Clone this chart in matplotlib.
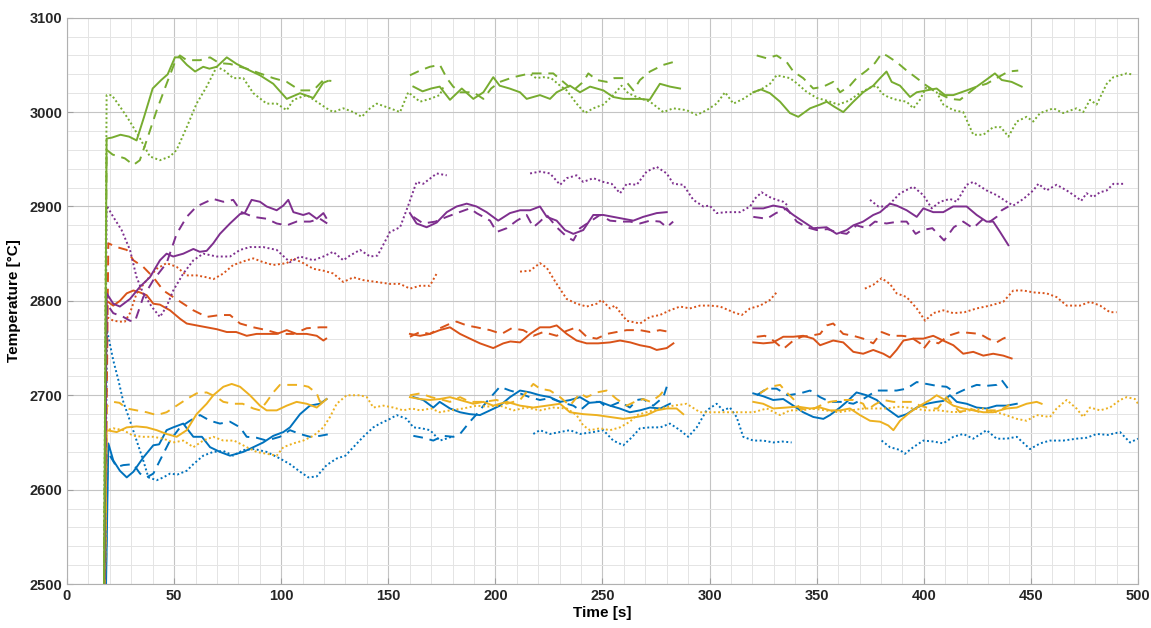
import numpy as np
import matplotlib.pyplot as plt

nan = np.nan

# --- green ---
gs_t = [16.8, 18.5, 21, 25, 29, 32.5, 36, 40, 44, 47, 50.4, 52.7, 56, 59.8, 63.6, 66.5, 69.9, 74.6, 79.2, 85.4, 90.1, 96.3, 102.6, 108.8, 115, 119.6, 121.8,
        140,
        161.7, 166, 170, 174, 178.8, 184.3, 189.7, 194.4, 199, 202, 206.6, 211.5, 214.6, 220.8, 225.5, 228.6, 234.8, 239.5, 244.2, 250.4, 255, 259.7, 267.5, 272, 276.8, 281.5, 286.2,
        300,
        320.4, 324, 328.2, 332.9, 337.5, 341.4, 346.9, 351.6, 354.7, 358, 362.4, 367.1, 371.7, 376.4, 379.6, 382.6, 385, 388.9, 393.6, 396.7, 401.3, 406, 409.9, 413.8, 420, 424.7, 427.8, 433.2, 436.4, 441, 445.7]
gs_v = [2300, 2972, 2973, 2976, 2974, 2970, 2995, 3025, 3034, 3040, 3058, 3058, 3050, 3043, 3048, 3046, 3048, 3058, 3051, 3044, 3039, 3030, 3014, 3020, 3015, 3031, 3033,
        nan,
        3027, 3022, 3025, 3027, 3013, 3025, 3014, 3021, 3037, 3028, 3025, 3021, 3014, 3018, 3014, 3021, 3028, 3021, 3027, 3023, 3016, 3014, 3014, 3013, 3030, 3027, 3025,
        nan,
        3021, 3024, 3020, 3011, 2999, 2995, 3004, 3008, 3011, 3006, 3000, 3011, 3021, 3028, 3036, 3043, 3032, 3028, 3016, 3021, 3023, 3025, 3018, 3018, 3023, 3027, 3032, 3041, 3034, 3032, 3027]

gd_t = [16.8, 18.5, 21.3, 27, 31, 34, 37.2, 41.9, 46.5, 50.4, 52.7, 55.9, 62.1, 66.8, 71, 76.1, 83.9, 90.1, 96.3, 102.6, 108.8, 115, 119.7, 123.4,
        140,
        160.1, 164.8, 169.4, 174.1, 177.3, 180.3, 183.5, 189.7, 194.4, 198, 202.1, 208.4, 216.2, 227, 231.7, 236.4, 241, 243.4, 247.3, 252, 255.5, 259.7, 264.4, 267.5, 272.2, 278.4, 283,
        300,
        322, 326.7, 331.3, 336, 339.1, 343.7, 348.4, 353.1, 357.7, 360.9, 365.5, 368.6, 373.3, 377.2, 380.3, 382.6, 387.3, 392, 396.7, 401.3, 406, 412.2, 416.9, 420.8, 424.7, 429.3, 434, 439.5, 444.1]
gd_v = [2300, 2960, 2955, 2951, 2944, 2949, 2970, 3002, 3030, 3053, 3060, 3055, 3055, 3058, 3052, 3051, 3046, 3041, 3036, 3032, 3023, 3023, 3034, 3033,
        nan,
        3039, 3044, 3048, 3050, 3036, 3027, 3021, 3021, 3014, 3025, 3032, 3037, 3041, 3041, 3032, 3023, 3032, 3041, 3034, 3032, 3036, 3036, 3023, 3034, 3043, 3050, 3053,
        nan,
        3060, 3057, 3060, 3053, 3043, 3036, 3025, 3027, 3032, 3021, 3028, 3036, 3044, 3052, 3062, 3060, 3053, 3044, 3036, 3028, 3021, 3014, 3013, 3020, 3027, 3030, 3036, 3043, 3044]

gt_t = [16.8, 18.5, 20.9, 24.7, 29.4, 34.1, 38.7, 43.4, 48.1, 51.2, 55.9, 60.5, 65.2, 69.9, 73.5, 77.6, 82.3, 87, 93.2, 97.9, 102.6, 105.7, 111.9, 116.6, 121.2, 124.3, 129, 133.7, 137.6, 141.5, 144.6, 150.8, 155.5, 159.3, 164.8, 169.4, 174, 176,
        195,
        216.5, 219, 222.4, 226, 230.2, 233.3, 237.9, 241.8, 245.7, 250.4, 255, 258.9, 262, 266, 272.2, 278.4, 283, 289.3, 294, 298.6, 303.3, 307.2, 311.1, 315.7, 320.4, 324, 328.2, 331.3, 337.5, 341, 345, 350, 355, 360, 365, 370, 375, 378, 380.3, 383.3, 387.3, 392, 395.1, 398.2, 401.3, 406, 409.1, 413.8, 418.4, 423.1, 427.8, 432.4, 436, 439.5, 443.4, 448, 451.1, 454.3, 460.5, 465.1, 471.3, 474.4, 477.6, 480.7, 485.4, 488.5, 494.7, 497]
gt_v = [2300, 3018, 3018, 3006, 2990, 2972, 2953, 2949, 2953, 2960, 2984, 3009, 3027, 3048, 3044, 3036, 3036, 3020, 3009, 3009, 3002, 3013, 3018, 3011, 3004, 3000, 3004, 3000, 2995, 3004, 3009, 3004, 3000, 3021, 3011, 3014, 3018, 3028,
        nan,
        3040, 3036, 3037, 3036, 3028, 3023, 3009, 2999, 3004, 3008, 3018, 3028, 3020, 3016, 3011, 3000, 3004, 3002, 2997, 3002, 3009, 3021, 3009, 3014, 3021, 3024, 3030, 3039, 3036, 3030, 3022, 3015, 3012, 3008, 3012, 3020, 3026, 3028, 3020, 3016, 3013, 3011, 3004, 3013, 3027, 3021, 3008, 3002, 3000, 2976, 2976, 2984, 2984, 2974, 2990, 2995, 2990, 2999, 3004, 2999, 3004, 3000, 3013, 3008, 3030, 3037, 3041, 3040]

# --- purple ---
ps_t = [16.8, 18.5, 21.6, 24.7, 29.4, 34.1, 38.7, 43.4, 46.5, 49.6, 54.3, 59, 62, 65.2, 68.3, 71.4, 76.1, 80.8, 83, 86.2, 90.1, 93.2, 97.9, 101, 103.3, 105.7, 110.3, 113, 116.6, 119.7, 121,
        140,
        160.1, 163.2, 167.9, 172.6, 177.3, 181.9, 186.6, 191.2, 195.9, 201.3, 206.8, 211.5, 216.2, 220.8, 224, 228.6, 232.5, 236.4, 241, 245.7, 250.4, 255, 259.7, 264.4, 269, 275.3, 280,
        300,
        320.4, 325.1, 329.7, 334.4, 339.1, 343.7, 348.4, 354.6, 359.3, 364, 367.1, 371.7, 376.4, 379.6, 384.2, 387.3, 392, 396.7, 399.8, 404.4, 409.1, 413.7, 420, 424.7, 429.3, 432.4, 435.6, 439.5]
ps_v = [2300, 2808, 2797, 2794, 2802, 2815, 2825, 2843, 2850, 2847, 2850, 2855, 2852, 2853, 2861, 2871, 2882, 2892, 2893, 2907, 2905, 2900, 2896, 2901, 2907, 2894, 2891, 2893, 2887, 2893, 2888,
        nan,
        2893, 2882, 2878, 2883, 2894, 2900, 2903, 2900, 2894, 2885, 2893, 2896, 2896, 2900, 2889, 2885, 2875, 2871, 2875, 2891, 2891, 2889, 2887, 2885, 2889, 2893, 2894,
        nan,
        2898, 2898, 2901, 2899, 2891, 2884, 2877, 2878, 2871, 2875, 2880, 2884, 2891, 2894, 2903, 2901, 2896, 2889, 2898, 2894, 2894, 2900, 2900, 2891, 2884, 2884, 2873, 2859]

pd_t = [16.8, 18.5, 21.6, 26.3, 29.4, 31.7, 35.6, 40.3, 46.5, 51.2, 55.9, 60.5, 65.2, 68.3, 73, 77.6, 81.5, 87, 93.2, 97.9, 102.6, 107.2, 113.5, 118.1, 121.5,
        140,
        161.7, 166.3, 172, 177.3, 182, 188.1, 191.2, 197.5, 200.6, 205.3, 210, 214.6, 217.7, 220.8, 224, 228.6, 233.3, 236.4, 239.5, 244.2, 248.8, 253.5, 258.2, 262.8, 267.5, 272.2, 276.8, 280, 283,
        300,
        320.4, 326.7, 331, 336, 340.7, 345.3, 350, 355, 359, 364, 368.6, 373.3, 377.2, 382.6, 388.1, 392, 396.2, 399.3, 404, 409.5, 414, 418.4, 423, 427.8, 430.9, 434, 436.4, 439.5]
pd_v = [2300, 2797, 2787, 2783, 2779, 2778, 2804, 2822, 2840, 2871, 2889, 2900, 2905, 2908, 2905, 2907, 2894, 2889, 2887, 2882, 2880, 2884, 2884, 2887, 2882,
        nan,
        2889, 2882, 2884, 2889, 2893, 2898, 2893, 2885, 2873, 2877, 2885, 2891, 2878, 2884, 2891, 2878, 2868, 2864, 2877, 2884, 2891, 2885, 2884, 2884, 2882, 2885, 2884, 2878, 2884,
        nan,
        2889, 2887, 2893, 2898, 2884, 2878, 2875, 2876, 2873, 2871, 2880, 2877, 2884, 2882, 2884, 2884, 2871, 2875, 2877, 2864, 2878, 2884, 2877, 2887, 2884, 2889, 2896, 2900]

pt_t = [16.8, 18.5, 21.6, 25.5, 29.4, 32.5, 35.6, 39.5, 43.4, 46.5, 49.6, 54.3, 59, 63.6, 69.9, 76.1, 80.8, 85.4, 91.6, 97.9, 104.1, 108.8, 115, 119.7, 124.3, 129, 132.1, 136.8, 141.5, 145, 150.8, 155.5, 159.3, 163.2, 166.3, 172.6, 177.3,
        195,
        216.2, 220.8, 225.5, 230.2, 233.3, 237.9, 241, 245.7, 250.4, 254.3, 258.2, 261.3, 266, 270.6, 275.3, 280, 283.1, 287.7, 292.4, 297.1, 300, 303.3, 308, 314.2, 318.9, 321, 324.3, 328, 331.3, 334.4, 337,
        355,
        374.9, 378.8, 383, 388.9, 395.1, 399.8, 403.7, 407.6, 412.2, 415.4, 420, 423.1, 429.3, 434, 438.7, 441.8, 446.5, 451.1, 453.5, 457.3, 462, 466.7, 471.3, 473.5, 476, 479.1, 482.2, 485.4, 488.5, 493.2]
pt_v = [2300, 2901, 2889, 2875, 2854, 2825, 2808, 2794, 2783, 2794, 2811, 2829, 2843, 2850, 2847, 2847, 2854, 2857, 2857, 2854, 2841, 2847, 2843, 2847, 2852, 2843, 2848, 2854, 2847, 2848, 2873, 2878, 2901, 2926, 2924, 2935, 2933,
        nan,
        2935, 2937, 2935, 2923, 2930, 2933, 2926, 2930, 2926, 2924, 2914, 2924, 2923, 2937, 2942, 2935, 2924, 2923, 2907, 2900, 2901, 2893, 2894, 2894, 2900, 2908, 2915, 2910, 2907, 2905, 2900,
        nan,
        2907, 2900, 2900, 2914, 2921, 2912, 2898, 2905, 2908, 2905, 2923, 2926, 2917, 2912, 2905, 2901, 2908, 2917, 2924, 2917, 2923, 2917, 2910, 2906, 2914, 2910, 2915, 2917, 2924, 2924]

# --- orange ---
os_t = [16.8, 18.5, 21.6, 24.7, 27.9, 31, 34, 37.2, 40.3, 43.4, 48.1, 52.8, 55.9, 60.5, 65.2, 69.9, 74.6, 79, 83.9, 88.5, 93.2, 98, 102.6, 107.2, 111.9, 116.6, 119.7, 121,
        140,
        160.1, 164.8, 169.4, 174, 178.8, 183.5, 188.1, 192.8, 199, 203.7, 207, 211.5, 216.2, 220.8, 225.5, 228.6, 233.3, 237.9, 242.6, 248, 253.5, 258.2, 263, 267.5, 272.2, 275.3, 280, 283.1,
        300,
        320.4, 325.1, 329.7, 334.4, 339.1, 343.7, 348.4, 351.6, 357.7, 362.4, 367.1, 371.7, 376.4, 381.1, 384.2, 387.3, 390.5, 395.1, 399.8, 404.4, 409, 413.8, 418.4, 423.1, 427.8, 432.4, 437.1, 441]
os_v = [2300, 2800, 2795, 2800, 2808, 2811, 2809, 2806, 2797, 2796, 2790, 2781, 2776, 2774, 2772, 2770, 2767, 2767, 2763, 2765, 2765, 2765, 2769, 2765, 2765, 2763, 2758, 2760,
        nan,
        2765, 2763, 2765, 2769, 2772, 2765, 2760, 2755, 2750, 2755, 2757, 2756, 2765, 2772, 2772, 2774, 2765, 2758, 2755, 2755, 2756, 2758, 2756, 2753, 2751, 2748, 2750, 2755,
        nan,
        2756, 2755, 2756, 2762, 2762, 2763, 2760, 2753, 2758, 2756, 2746, 2744, 2748, 2744, 2740, 2748, 2758, 2760, 2760, 2763, 2758, 2753, 2744, 2746, 2742, 2744, 2742, 2739]

od_t = [16.8, 19.3, 23.2, 27.9, 31, 35.6, 40.3, 45, 49.6, 54.3, 59, 65.2, 71.4, 76.1, 80.8, 87, 93.2, 99.4, 105.7, 111.9, 118.1, 122,
        140,
        160.1, 164.8, 169.4, 174.1, 178, 181.9, 186.6, 191.2, 197.5, 202.9, 207.6, 213, 217.7, 222.4, 228.6, 233, 237.9, 242.6, 247.3, 252, 256.6, 261.3, 267.5, 272.2, 276.8, 281.5,
        300,
        322, 325.8, 329.7, 334.4, 339.1, 343, 346.9, 351.6, 354.7, 357.7, 362.4, 367.1, 371.7, 376.4, 380.3, 384.9, 389.6, 393.6, 398.3, 399.8, 402.9, 406.8, 411.4, 416.9, 421.6, 426.2, 430, 434, 437, 440.2]
od_v = [2300, 2861, 2857, 2854, 2843, 2836, 2825, 2811, 2804, 2797, 2790, 2783, 2785, 2785, 2776, 2772, 2769, 2765, 2765, 2771, 2772, 2772,
        nan,
        2762, 2767, 2765, 2771, 2775, 2778, 2774, 2772, 2769, 2765, 2771, 2769, 2763, 2767, 2763, 2768, 2772, 2762, 2760, 2765, 2767, 2769, 2769, 2767, 2769, 2767,
        nan,
        2762, 2763, 2758, 2749, 2758, 2762, 2763, 2765, 2774, 2776, 2765, 2763, 2760, 2755, 2767, 2763, 2763, 2762, 2755, 2749, 2758, 2755, 2763, 2767, 2766, 2765, 2760, 2756, 2760, 2763]

ot_t = [16.8, 18.5, 21.6, 24.7, 27, 29.4, 32.5, 37.2, 41.9, 46.5, 51.2, 55.9, 60.5, 65.2, 68.3, 73, 77.6, 83.9, 87, 91.6, 96.3, 102.6, 105.7, 110.3, 115, 119.7, 124.3, 129, 133.7, 138.3, 144.6, 150.8, 155.4, 160.1, 164.8, 169.4, 172.6,
        190,
        211.5, 216.2, 220.8, 224, 228.6, 233.3, 237.9, 242.6, 247.3, 249.6, 253.5, 255.8, 261.3, 267.5, 272.2, 276.8, 281.5, 286.2, 290.8, 295.5, 300.2, 304.9, 311.1, 315, 318.9, 323.6, 328.2, 331.3,
        350,
        372.5, 376.4, 380.3, 384.2, 387.3, 392, 396.7, 400.6, 404.4, 409.1, 413.8, 419, 424.7, 430.9, 437.1, 441.8, 446.5, 451.1, 457.3, 462, 466.7, 472.9, 477.6, 482.3, 486.9, 490]
ot_v = [2300, 2783, 2779, 2778, 2778, 2787, 2808, 2822, 2834, 2840, 2836, 2827, 2827, 2825, 2823, 2829, 2838, 2843, 2845, 2841, 2838, 2840, 2845, 2840, 2834, 2832, 2829, 2820, 2825, 2822, 2820, 2818, 2818, 2813, 2816, 2816, 2829,
        nan,
        2831, 2832, 2840, 2835, 2818, 2802, 2797, 2794, 2797, 2801, 2792, 2795, 2779, 2776, 2783, 2785, 2790, 2794, 2792, 2795, 2795, 2794, 2788, 2785, 2792, 2795, 2801, 2809,
        nan,
        2813, 2817, 2824, 2818, 2808, 2804, 2792, 2779, 2787, 2790, 2787, 2788, 2792, 2795, 2799, 2811, 2811, 2809, 2808, 2804, 2795, 2795, 2799, 2795, 2788, 2788]

# --- yellow ---
ys_t = [16.8, 18.5, 23.2, 27.9, 32.5, 37.2, 41.9, 46.5, 51.2, 55.9, 60.5, 65.2, 68.3, 73, 76.9, 80.8, 85.4, 90.1, 93.2, 97.9, 102.6, 107.2, 111.9, 116.6, 121.2,
        140,
        160.1, 164.8, 169.4, 174, 178.8, 183.5, 189.7, 194.4, 199, 205.3, 211.5, 217.7, 224, 230.2, 234.8, 241, 247.3, 253.5, 259.7, 266, 270.6, 275.3, 280, 284.6, 287.7,
        300,
        320.4, 325, 329.7, 335.9, 341, 346.9, 351.6, 356.2, 361, 365.5, 370.2, 374.9, 379.6, 383.4, 385.8, 388.9, 393.6, 398.2, 402.9, 406, 409.1, 413.8, 418.4, 423.1, 427.8, 432.4, 438.7, 443.4, 448, 452.7, 455]
ys_v = [2300, 2663, 2661, 2666, 2667, 2666, 2663, 2659, 2656, 2663, 2680, 2691, 2700, 2709, 2712, 2709, 2700, 2689, 2684, 2684, 2689, 2693, 2691, 2687, 2696,
        nan,
        2698, 2696, 2695, 2696, 2698, 2695, 2691, 2693, 2689, 2693, 2689, 2687, 2689, 2691, 2682, 2680, 2679, 2677, 2675, 2677, 2679, 2684, 2686, 2686, 2680,
        nan,
        2693, 2691, 2686, 2687, 2688, 2686, 2687, 2684, 2684, 2686, 2679, 2673, 2672, 2668, 2663, 2673, 2682, 2689, 2695, 2700, 2696, 2689, 2686, 2684, 2682, 2682, 2686, 2687, 2691, 2693, 2691]

yd_t = [16.8, 18.5, 21.6, 24.5, 27.9, 32.5, 37.2, 41.9, 46.5, 51.2, 55.9, 60.5, 65.2, 69.9, 73, 77.6, 82, 87, 90.1, 93.2, 96.3, 99.4, 104.1, 108.8, 112.7, 116.6, 118.1, 120.5,
        140,
        160.1, 165, 170, 174, 178.8, 183.5, 188.1, 194.4, 200.6, 205.3, 211.5, 217.7, 220.8, 225.5, 230.2, 234.8, 239.5, 242.6, 247.3, 252, 256.6, 261.3, 265, 269, 272.5, 276.8, 280,
        300,
        323.5, 328.2, 332.9, 336, 339.1, 342.2, 346.9, 351.6, 356, 362.4, 367.1, 371.7, 373.3, 377, 381.1, 385.8, 390.5, 395, 398.2, 402.9, 406.5, 410.6, 413.5, 416.9, 421.5, 426.2, 431, 435.6, 440]
yd_v = [2300, 2688, 2693, 2692, 2686, 2684, 2682, 2679, 2682, 2689, 2696, 2702, 2703, 2698, 2693, 2691, 2691, 2686, 2684, 2693, 2703, 2711, 2711, 2711, 2709, 2702, 2693, 2696,
        nan,
        2700, 2702, 2698, 2696, 2693, 2698, 2693, 2693, 2695, 2691, 2695, 2712, 2707, 2705, 2698, 2689, 2702, 2698, 2703, 2705, 2696, 2689, 2693, 2696, 2693, 2700, 2709,
        nan,
        2702, 2709, 2711, 2703, 2696, 2686, 2684, 2689, 2693, 2695, 2695, 2691, 2684, 2690, 2695, 2693, 2693, 2693, 2689, 2686, 2686, 2698, 2690, 2682, 2686, 2682, 2684, 2684, 2690]

yt_t = [16.8, 18.5, 21.6, 26.3, 31, 35.6, 40.3, 45, 49.6, 54.3, 59, 63.6, 68.3, 73, 78, 83.9, 88.5, 93.2, 97.9, 101, 105.7, 110.3, 115, 119.7, 122.8, 125.9, 130.6, 136.8, 140, 143, 147.7, 152.3, 157, 161, 164.8, 170, 174, 178.8, 185, 191.2, 196, 202.1, 208.4, 214.6, 220.8, 227, 233.3, 237.9, 241, 244.2, 248.8, 253.5, 258.2, 262.8, 266, 270.6, 276.8, 283.1, 289.3, 295.5, 301.7, 307.9, 314.2, 320.4, 326.7, 332.9, 337.5, 343, 348, 354, 360, 366, 372, 377, 382.6, 388.9, 395, 401, 407, 414, 421.6, 428, 432, 437.1, 443.4, 448, 452.7, 458.9, 462, 466.7, 471.3, 474.4, 477.6, 482.3, 486.9, 491.6, 494.7, 498.6, 500]
yt_v = [2300, 2663, 2665, 2663, 2657, 2656, 2656, 2654, 2650, 2652, 2645, 2652, 2656, 2652, 2652, 2645, 2640, 2638, 2636, 2645, 2649, 2652, 2657, 2666, 2677, 2691, 2700, 2700, 2698, 2687, 2689, 2687, 2684, 2686, 2684, 2686, 2682, 2684, 2686, 2689, 2688, 2689, 2684, 2687, 2684, 2687, 2686, 2679, 2668, 2663, 2665, 2663, 2666, 2672, 2679, 2682, 2686, 2689, 2691, 2682, 2682, 2682, 2682, 2682, 2686, 2679, 2684, 2684, 2686, 2684, 2682, 2684, 2686, 2686, 2686, 2688, 2686, 2684, 2684, 2682, 2684, 2686, 2683, 2680, 2675, 2673, 2679, 2677, 2686, 2695, 2686, 2677, 2687, 2684, 2687, 2695, 2698, 2696, 2691]

# --- blue ---
bs_t = [16.8, 19.3, 21.6, 24.7, 27.9, 31, 35.6, 40.3, 43, 46.5, 49.6, 54.3, 56.6, 59, 63, 66.8, 71.4, 76.1, 82.3, 87, 91.6, 96.3, 101, 104.1, 108.8, 113.4, 118.1, 121.2,
        140,
        161.7, 166.3, 171, 174, 178.8, 183.5, 188, 192.8, 197.5, 202.1, 206.8, 211.5, 216.2, 220.8, 225.5, 230.2, 235, 239.5, 244, 248.8, 253.5, 258, 262.8, 267.5, 272.2, 277, 281.5,
        300,
        320.4, 325, 329.7, 334.4, 339.1, 343.7, 348.4, 353.1, 356.2, 360.9, 364, 368.6, 373.3, 378, 382.6, 388.1, 392, 396.7, 401.3, 406, 409.1, 412.2, 415.4, 420, 424.7, 429.3, 434, 438.7, 443.4]
bs_v = [2300, 2649, 2631, 2620, 2613, 2619, 2634, 2647, 2648, 2663, 2666, 2670, 2663, 2656, 2656, 2645, 2640, 2636, 2640, 2645, 2650, 2657, 2661, 2666, 2680, 2689, 2691, 2696,
        nan,
        2698, 2695, 2687, 2693, 2686, 2682, 2680, 2679, 2684, 2689, 2698, 2705, 2703, 2700, 2698, 2693, 2695, 2698, 2692, 2693, 2689, 2686, 2682, 2684, 2687, 2686, 2691,
        nan,
        2702, 2699, 2695, 2696, 2689, 2682, 2677, 2675, 2679, 2687, 2693, 2703, 2700, 2695, 2686, 2677, 2680, 2687, 2691, 2693, 2694, 2700, 2693, 2691, 2687, 2686, 2689, 2689, 2691]

bd_t = [16.8, 19, 23.2, 26.3, 31, 34.1, 37.2, 40.3, 43.4, 48.1, 52.8, 57.4, 62.1, 66.8, 71.4, 76.1, 80.8, 83.9, 88.5, 93.2, 99.4, 104.1, 108.8, 113.4, 118.1, 122.8,
        140,
        161.7, 166.3, 171, 175.6, 180.4, 183.5, 188.1, 191.3, 195.9, 202.1, 206.8, 211.5, 216, 220.8, 225.5, 230.2, 236.4, 239.5, 244.2, 248.8, 252, 258.2, 262.8, 266, 269, 273.7, 278.4, 280,
        300,
        322, 326.7, 331.3, 336.5, 342.2, 346.9, 351.6, 356.2, 362, 367.1, 371.7, 378, 382.6, 387.3, 392, 396.7, 401.3, 406, 410.6, 415.3, 420, 424.7, 429.3, 434, 436.4, 441]
bd_v = [2300, 2640, 2624, 2626, 2627, 2617, 2613, 2617, 2631, 2652, 2666, 2673, 2679, 2673, 2670, 2672, 2666, 2656, 2655, 2652, 2656, 2663, 2659, 2656, 2657, 2659,
        nan,
        2657, 2655, 2652, 2657, 2656, 2659, 2672, 2680, 2693, 2709, 2705, 2702, 2698, 2695, 2697, 2693, 2689, 2684, 2693, 2693, 2687, 2693, 2687, 2695, 2696, 2689, 2698, 2709,
        nan,
        2700, 2707, 2707, 2700, 2702, 2705, 2698, 2693, 2693, 2691, 2696, 2705, 2705, 2705, 2707, 2714, 2712, 2710, 2709, 2702, 2707, 2711, 2710, 2711, 2716, 2702]

bt_t = [16.8, 18.7, 21.6, 24, 26.3, 29.4, 32.5, 35.6, 38, 41.9, 45, 48.1, 51.5, 55.9, 59, 63.6, 68.3, 73, 77.6, 82.3, 87.5, 93.2, 99.4, 104.1, 108.8, 112.7, 116.6, 121.2, 125.9, 130, 133.7, 138.3, 143, 146.1, 150.8, 153.9, 158.6, 161.7, 165.5, 169.5, 174.1, 177, 179.6,
        195,
        217.7, 220.8, 225.5, 230, 234.8, 239.5, 245.7, 250.4, 255, 259.7, 263.5, 267.5, 272.2, 277, 281.5, 286.2, 290, 294, 298.6, 303.3, 306.4, 309.5, 312.6, 315.7, 320.4, 325, 329.7, 334, 338.3,
        360,
        380.3, 384.2, 388.9, 391.2, 395.1, 399.8, 404.5, 409.1, 413.8, 418.4, 423.1, 429.3, 434, 438.7, 443.4, 449.6, 454.3, 458.9, 465.1, 471.3, 476, 480.7, 486, 491.6, 496.3, 500]
bt_v = [2300, 2769, 2737, 2716, 2693, 2673, 2652, 2631, 2613, 2610, 2613, 2617, 2616, 2620, 2627, 2636, 2640, 2641, 2636, 2642, 2643, 2640, 2633, 2627, 2619, 2613, 2614, 2626, 2633, 2636, 2645, 2656, 2666, 2670, 2675, 2679, 2675, 2666, 2665, 2663, 2652, 2654, 2656,
        nan,
        2659, 2663, 2659, 2661, 2663, 2659, 2661, 2663, 2652, 2647, 2655, 2665, 2666, 2666, 2670, 2663, 2656, 2666, 2684, 2691, 2684, 2687, 2677, 2656, 2652, 2652, 2650, 2651, 2650,
        nan,
        2652, 2645, 2642, 2638, 2645, 2652, 2651, 2649, 2656, 2659, 2654, 2663, 2654, 2654, 2656, 2643, 2649, 2652, 2652, 2654, 2655, 2659, 2658, 2661, 2650, 2654]

x_ticks = [0, 50, 100, 150, 200, 250, 300, 350, 400, 450, 500]
y_ticks = [2500, 2600, 2700, 2800, 2900, 3000, 3100]

blue = (0, 0.447, 0.741)
orange = (0.85, 0.325, 0.098)
yellow = (0.929, 0.694, 0.125)
purple = (0.494, 0.184, 0.556)
green = (0.466, 0.674, 0.188)

series = [
    (bs_t, bs_v, blue, '-'), (bd_t, bd_v, blue, '--'), (bt_t, bt_v, blue, ':'),
    (os_t, os_v, orange, '-'), (od_t, od_v, orange, '--'), (ot_t, ot_v, orange, ':'),
    (ys_t, ys_v, yellow, '-'), (yd_t, yd_v, yellow, '--'), (yt_t, yt_v, yellow, ':'),
    (ps_t, ps_v, purple, '-'), (pd_t, pd_v, purple, '--'), (pt_t, pt_v, purple, ':'),
    (gs_t, gs_v, green, '-'), (gd_t, gd_v, green, '--'), (gt_t, gt_v, green, ':'),
]

plt.rcParams['font.family'] = ['Liberation Sans', 'DejaVu Sans']

fig = plt.figure(figsize=(11.51, 6.28), dpi=100)
ax = fig.add_axes([0.0582, 0.070, 0.9305, 0.9018])

for t, v, c, ls in series:
    assert len(t) == len(v), (len(t), len(v))
    if ls == '--':
        ax.plot(t, v, color=c, lw=1.4, linestyle=(0, (5, 3.5)))
    elif ls == ':':
        ax.plot(t, v, color=c, lw=1.4, linestyle=(0, (1, 1.3)))
    else:
        ax.plot(t, v, color=c, lw=1.4)

ax.set_xlim(0, 500)
ax.set_ylim(2500, 3100)
ax.set_xticks(x_ticks)
ax.set_yticks(y_ticks)
ax.set_xticks(np.arange(0, 501, 10), minor=True)
ax.set_yticks(np.arange(2500, 3101, 20), minor=True)
ax.grid(which='major', color='#c4c4c4', lw=0.8)
ax.grid(which='minor', color='#e4e4e4', lw=0.7)
ax.set_axisbelow(True)
ax.tick_params(which='both', direction='in', length=0, labelsize=10.5, colors='#262626')
ax.tick_params(which='major', length=4, color='#a0a0a0')
for lab in ax.get_xticklabels() + ax.get_yticklabels():
    lab.set_fontweight('bold')
for s in ax.spines.values():
    s.set_color('#b0b0b0')
    s.set_linewidth(0.8)

ax.set_xlabel('Time [s]', fontsize=11, fontweight='bold', labelpad=2)
ax.set_ylabel('Temperature [°C]', fontsize=11, fontweight='bold', labelpad=6)

fig.savefig('out.png', dpi=100)
